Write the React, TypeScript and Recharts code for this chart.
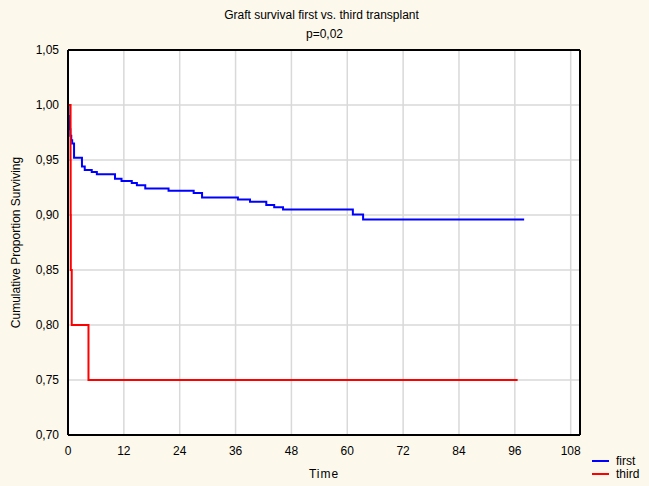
import { LineChart, Line, XAxis, YAxis, CartesianGrid, Legend } from "recharts";

// Kaplan-Meier estimates (time in months)
const firstTimes = [0, 0.1, 0.2, 0.35, 0.5, 0.7, 0.9, 1.3, 3.0, 3.6, 5.1, 6.2, 10.1, 11.5, 13.7, 14.8, 16.6, 21.6, 27.0, 28.8, 36.5, 39.1, 42.6, 44.3, 46.2, 61.2, 63.4, 98];
const firstSurv = [1.0, 0.99, 0.985, 0.978, 0.972, 0.968, 0.965, 0.952, 0.944, 0.941, 0.939, 0.937, 0.933, 0.931, 0.929, 0.927, 0.924, 0.922, 0.92, 0.916, 0.914, 0.912, 0.909, 0.907, 0.905, 0.9005, 0.896, 0.896];

const thirdTimes = [0, 0.55, 0.57, 0.6, 0.8, 4.4, 96.6];
const thirdSurv = [1.0, 0.95, 0.9, 0.85, 0.8, 0.75, 0.75];

const xTicks = [0, 12, 24, 36, 48, 60, 72, 84, 96, 108];
const yTicks = [0.7, 0.75, 0.8, 0.85, 0.9, 0.95, 1.0, 1.05];
const topTicks = [2.3, 12.1, 21.9, 31.6, 41.4, 51.2, 61.0, 70.8, 80.5, 90.3, 100.1];

const firstData = firstTimes.map((t, i) => ({ t, s: firstSurv[i] }));
const thirdData = thirdTimes.map((t, i) => ({ t, s: thirdSurv[i] }));

const FONT = "'Liberation Sans', Arial, sans-serif";
const tickStyle = { fontSize: 12, fill: "#000", fontFamily: FONT };

const legendItems = [
  { name: "first", color: "#0000ff" },
  { name: "third", color: "#ff0000" },
];

function LegendBox() {
  return (
    <div style={{ fontFamily: FONT, fontSize: 12, color: "#000" }}>
      {legendItems.map((it) => (
        <div key={it.name} style={{ display: "flex", alignItems: "center", height: 13 }}>
          <span style={{ width: 17, height: 2, background: it.color, marginRight: 7 }} />
          <span>{it.name}</span>
        </div>
      ))}
    </div>
  );
}

export default function App() {
  return (
    <div style={{ position: "absolute", left: 0, top: 0, width: 649, height: 486, background: "#fcf8ec", fontFamily: FONT }}>
      <div style={{ position: "absolute", top: 8, width: 649, textAlign: "center", fontSize: 12, left: -3 }}>
        Graft survival first vs. third transplant
      </div>
      <div style={{ position: "absolute", top: 27, width: 649, textAlign: "center", fontSize: 12 }}>p=0,02</div>
      <LineChart width={649} height={486} margin={{ top: 49, right: 68, bottom: 0, left: 0 }}>
        <CartesianGrid stroke="#d9d9d9" strokeWidth={1.5} fill="#ffffff" />
        <XAxis
          dataKey="t"
          type="number"
          domain={[0, 110]}
          ticks={xTicks}
          allowDataOverflow
          height={51}
          stroke="#000"
          axisLine={{ stroke: "#000", strokeWidth: 2 }}
          tickLine={false}
          tickSize={0}
          tickMargin={11}
          tick={tickStyle}
          label={{ value: "Time", position: "insideBottom", offset: 8, style: { fontSize: 12, fill: "#000", fontFamily: FONT, letterSpacing: 1 } }}
        />
        <XAxis
          xAxisId="top"
          orientation="top"
          type="number"
          domain={[0, 110]}
          ticks={topTicks}
          height={1}
          tickSize={-3}
          tickLine={{ stroke: "#000" }}
          tickFormatter={() => ""}
          axisLine={{ stroke: "#000", strokeWidth: 2 }}
        />
        <YAxis
          type="number"
          domain={[0.7, 1.05]}
          ticks={yTicks}
          allowDataOverflow
          width={68}
          axisLine={{ stroke: "#000", strokeWidth: 2 }}
          tickLine={false}
          tickSize={0}
          tickMargin={9}
          tick={tickStyle}
          tickFormatter={(v: number) => v.toFixed(2).replace(".", ",")}
          label={{ value: "Cumulative Proportion Surviving", angle: -90, position: "insideLeft", offset: 16, style: { textAnchor: "middle", fontSize: 12, fill: "#000", fontFamily: FONT } }}
        />
        <YAxis yAxisId="r" orientation="right" width={1} tick={false} tickLine={false} axisLine={{ stroke: "#000", strokeWidth: 2 }} />
        <Line data={firstData} dataKey="s" name="first" type="stepAfter" stroke="#0000ff" strokeWidth={2} dot={false} isAnimationActive={false} />
        <Line data={thirdData} dataKey="s" name="third" type="stepAfter" stroke="#ff0000" strokeWidth={2} dot={false} isAnimationActive={false} />
        <Legend layout="horizontal" verticalAlign="middle" content={<LegendBox />} wrapperStyle={{ left: 592, top: 454, width: 57 }} />
      </LineChart>
    </div>
  );
}
